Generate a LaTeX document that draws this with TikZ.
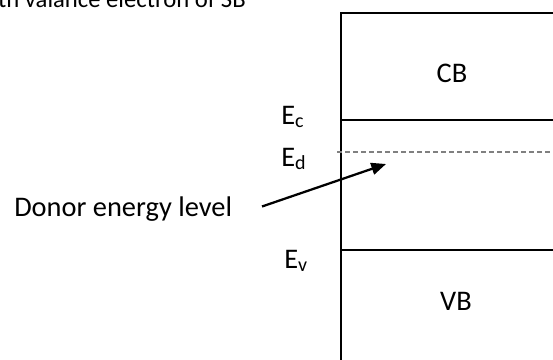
\documentclass[tikz,border=0pt]{standalone}
\usepackage{fontspec}
\setmainfont{Carlito}
\usetikzlibrary{arrows.meta}
\newcommand{\elev}[1]{E\raisebox{-2.5pt}{\fontsize{15}{15}\selectfont #1}}
\tikzset{
  lbl/.style={inner sep=0pt,anchor=base west,font=\fontsize{21.3}{24}\selectfont},
  band/.style={inner sep=0pt,anchor=base,font=\fontsize{21.3}{24}\selectfont},
  edge/.style={line width=1.3pt},
  donorline/.style={draw=gray,line width=1pt,dash pattern=on 4pt off 2pt},
  arr/.style={line width=1.7pt,-{Triangle[length=11pt,width=9pt]}}
}

\begin{document}
\begin{tikzpicture}[x=0.75pt,y=-0.75pt]
\useasboundingbox (0,0) rectangle (553,360);
\clip (0,0) rectangle (553,360);
% band box
\draw[edge] (560,13)--(341,13)--(341,370);
\draw[edge] (341,120)--(560,120);
\draw[edge] (341,250)--(560,250);
\draw[donorline] (337,152)--(560,152);
% labels
\node[lbl] (ec) at (281,124.5) {\elev{c}};
\node[lbl] (ed) at (281,166.5) {\elev{d}};
\node[lbl] (ev) at (284,268.5) {\elev{v}};
\node[band] (cb) at (452,82.5) {CB};
\node[band] (vb) at (456,310) {VB};
\node[lbl] (donor) at (14,216.5) {Donor energy level};
\node[inner sep=0pt,anchor=base east,font=\fontsize{18.5}{20}\selectfont] (top) at (246,8) {th valance electron of SB};
% arrow
\coordinate (tail) at (262,206.5);
\coordinate (tip) at (386,164);
\draw[arr] (tail)--(tip);
\end{tikzpicture}
\end{document}
